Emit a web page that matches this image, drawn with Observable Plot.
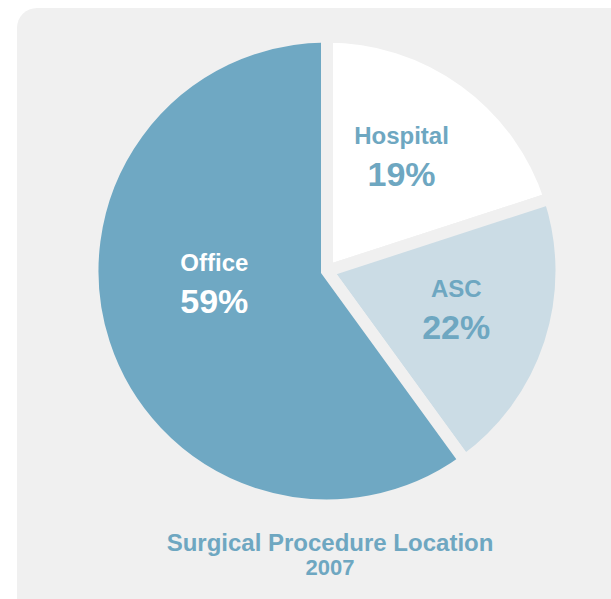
<!DOCTYPE html>
<html>
<head>
<meta charset="utf-8">
<script src="https://cdn.jsdelivr.net/npm/d3@7"></script>
<script src="https://cdn.jsdelivr.net/npm/@observablehq/plot@0.6"></script>
<style>
  html, body { margin: 0; padding: 0; background: #ffffff; overflow: hidden; width: 611px; height: 599px; }
  #wrap { position: relative; width: 611px; height: 599px; overflow: hidden; }
  #panel { position: absolute; left: 17px; top: 8px; width: 700px; height: 700px; background: #f0f0f0; border-radius: 20px; }
  #chart { position: absolute; left: 0; top: 0; }
  #caption { position: absolute; left: 0; top: 531px; width: 660px; text-align: center;
    font-family: "Liberation Sans", Arial, Helvetica, sans-serif; font-weight: bold; color: #6ea7c1; }
  #caption .t { font-size: 24px; line-height: 24px; }
  #caption .s { font-size: 22px; line-height: 22px; margin-top: 2px; }
</style>
</head>
<body>
<div id="wrap">
  <div id="panel"></div>
  <div id="chart"></div>
  <div id="caption"><div class="t"></div><div class="s"></div></div>
</div>
<script>
// ---- data ----
const categories = ["Hospital", "ASC", "Office"];
const shares = [20, 20, 60];
// printed labels
const valueLabels = ["19%", "22%", "59%"];
const titleText = "Surgical Procedure Location";
const subtitleText = "2007";

// ---- styles ----
const sliceColors = {Hospital: "#ffffff", ASC: "#cbdce5", Office: "#6fa8c3"};
const textColors = {Hospital: "#6ea7c1", ASC: "#6ea7c1", Office: "#ffffff"};
const gapColor = "#f0f0f0";
const labelR = {Hospital: 0.586, ASC: 0.572, Office: 0.485};
const labelTweak = {Hospital: -3.4, ASC: -1.7, Office: 12.4}; // degrees

const rows = categories.map((c, i) => ({category: c, share: shares[i], label: valueLabels[i]}));
const arcs = d3.pie().sort(null).value(d => d.share)(rows).map(a => {
  const mid = (a.startAngle + a.endAngle) / 2;
  const la = mid + labelTweak[a.data.category] * Math.PI / 180;
  const lr = labelR[a.data.category];
  return {...a, lx: lr * Math.sin(la), ly: lr * Math.cos(la),
          category: a.data.category, label: a.data.label, tcolor: textColors[a.data.category]};
});

const W = 611, H = 528, R = 234.5, CX = 327, CY = 271;

const slicesMark = (index, scales) => {
  const g = d3.create("svg:g")
    .attr("transform", `translate(${scales.x(0)},${scales.y(0)})`);
  const k = scales.x(1) - scales.x(0);
  const arcGen = d3.arc().innerRadius(0).outerRadius(k);
  for (const a of arcs) {
    g.append("path")
      .attr("d", arcGen(a))
      .attr("fill", sliceColors[a.category])
      .attr("stroke", gapColor)
      .attr("stroke-width", 12)
      .attr("stroke-linejoin", "miter");
  }
  return g.node();
};

const plot = Plot.plot({
  width: W, height: H,
  margin: 0,
  style: {background: "transparent", fontFamily: "'Liberation Sans', Arial, Helvetica, sans-serif"},
  x: {domain: [-CX / R, (W - CX) / R], axis: null},
  y: {domain: [-(H - CY) / R, CY / R], axis: null},
  color: {type: "identity"},
  marks: [
    slicesMark,
    Plot.text(arcs, {x: "lx", y: "ly", text: "category", fill: "tcolor", fontSize: 24, fontWeight: "bold",
      textAnchor: "middle", lineAnchor: "bottom", dy: -12}),
    Plot.text(arcs, {x: "lx", y: "ly", text: "label", fill: "tcolor", fontSize: 34, fontWeight: "bold",
      textAnchor: "middle", lineAnchor: "bottom", dy: 30})
  ]
});
document.getElementById("chart").appendChild(plot);
document.querySelector("#caption .t").textContent = titleText;
document.querySelector("#caption .s").textContent = subtitleText;
</script>
</body>
</html>
